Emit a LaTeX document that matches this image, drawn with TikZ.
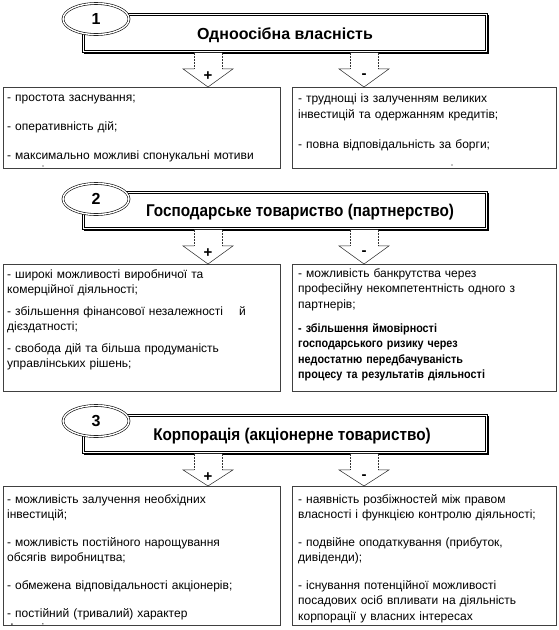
\documentclass[tikz,border=0pt]{standalone}
\usepackage{fontspec}
\setmainfont{Liberation Sans}
\newfontfamily\narrowfont{Liberation Sans}[FakeStretch=0.9]
\usetikzlibrary{shapes.geometric,calc}
\tikzset{
  titlebox/.style={draw=black, line width=0.9pt, fill=white, anchor=north west, inner sep=0pt, minimum width=405pt, minimum height=39pt},
  numell/.style={ellipse, draw=black, line width=0.6pt, double=white, double distance=1.4pt, fill=white, minimum width=66pt, minimum height=31pt, inner sep=0pt, font=\fontsize{16}{16}\selectfont\bfseries},
  sidebox/.style={draw=black!75, line width=0.6pt, anchor=north west, inner sep=0pt},
  boxtext/.style={anchor=base west, inner sep=0pt, text width=#1, align=left, font=\fontsize{12}{16}\selectfont},
  titletext/.style={font=\fontsize{16}{16}\selectfont\bfseries},
  narrowtitle/.style={font=\narrowfont\fontsize{17}{17}\selectfont\bfseries},
  arrowfill/.style={fill=white},
  shaftline/.style={draw=black!80, line width=0.5pt, densely dotted},
  headline/.style={draw=black!85, line width=0.5pt},
  signlabel/.style={font=\fontsize{15}{15}\selectfont\bfseries, inner sep=0pt}
}
% #1 x centre, #2 title node, #3 box node, #4 sign
\newcommand{\blkarrow}[4]{%
  \path let \p1=(#2.south), \p2=(#3.north) in
    [arrowfill] (#1-14,\y1) -- (#1-14,\y1-16pt) -- (#1-25,\y1-16pt) -- (#1,\y2)
      -- (#1+25,\y1-16pt) -- (#1+14,\y1-16pt) -- (#1+14,\y1) -- cycle;
  \path let \p1=(#2.south), \p2=(#3.north) in
    [shaftline] (#1-14,\y1) -- (#1-14,\y1-16pt) (#1+14,\y1) -- (#1+14,\y1-16pt);
  \path let \p1=(#2.south), \p2=(#3.north) in
    [headline] (#1-14,\y1-16pt) -- (#1-25,\y1-16pt) -- (#1,\y2)
      -- (#1+25,\y1-16pt) -- (#1+14,\y1-16pt)
    node[signlabel] at (#1,\y1-23pt) {#4};
}
\newcommand{\titleinner}[1]{%
  \draw[line width=0.5pt] ($(#1.north west)+(2.5,2.5)$) rectangle ($(#1.south east)+(-2.5,-2.5)$);
}
\begin{document}
\begin{tikzpicture}[x=1pt,y=-1pt]
\useasboundingbox (0,0) rectangle (558,630);

% ---------------- Block 1 ----------------
\fill[black] (84,15) rectangle (489,54);
\node[titlebox] (t1) at (82,13) {};
\titleinner{t1}
\node[titletext] (t1txt) at (285,35) {Одноосібна власність};
\node[numell] (e1) at (96,19) {1};

\node[sidebox, minimum width=277pt, minimum height=81pt] (b1l) at (3,87) {};
\node[sidebox, minimum width=264pt, minimum height=81pt] (b1r) at (292,87) {};
\blkarrow{208}{t1}{b1l}{+}
\blkarrow{364}{t1}{b1r}{-}
\node[boxtext=270pt] (x1l) at (7,101) {- простота заснування;\\[13pt]
- оперативність дій;\\[13pt]
- максимально можливі спонукальні мотиви};
\node[boxtext=258pt] (x1r) at (298,102) {- труднощі із залученням великих\\
інвестицій та одержанням кредитів;\\[14pt]
- повна відповідальність за борги;};
\fill[black] (452,165) circle (0.7pt);
\fill[black] (43,166) circle (0.7pt);

% ---------------- Block 2 ----------------
\fill[black] (84,193) rectangle (489,231);
\node[titlebox, minimum height=38pt] (t2) at (82,191) {};
\titleinner{t2}
\node[narrowtitle] (t2txt) at (300,212) {Господарське товариство (партнерство)};
\node[numell] (e2) at (96,199) {2};

\node[sidebox, minimum width=277pt, minimum height=127pt] (b2l) at (3,264) {};
\node[sidebox, minimum width=264pt, minimum height=127pt] (b2r) at (292,264) {};
\blkarrow{208}{t2}{b2l}{+}
\blkarrow{364}{t2}{b2r}{-}
\node[boxtext=270pt, font=\fontsize{12}{15}\selectfont] (x2l) at (7,278) {- широкі можливості виробничої та\\
комерційної діяльності;\\[7pt]
- збільшення фінансової незалежності \ \ \ й\\
дієздатності;\\[7pt]
- свобода дій та більша продуманість\\
управлінських рішень;};
\node[boxtext=258pt, font=\fontsize{12}{15.5}\selectfont] (x2r) at (298,277) {- можливість банкрутства через\\
професійну некомпетентність одного з\\
партнерів;\\[8.5pt]
{\narrowfont\bfseries - збільшення ймовірності\\
господарського ризику через\\
недостатню передбачуваність\\
процесу та результатів діяльності}};

% ---------------- Block 3 ----------------
\fill[black] (84,416) rectangle (489,455);
\node[titlebox] (t3) at (82,414) {};
\titleinner{t3}
\node[narrowtitle] (t3txt) at (292,436) {Корпорація (акціонерне товариство)};
\node[numell] (e3) at (96,421) {3};

\node[sidebox, minimum width=277pt, minimum height=139pt] (b3l) at (3,486) {};
\node[sidebox, minimum width=264pt, minimum height=139pt] (b3r) at (292,486) {};
\blkarrow{208}{t3}{b3l}{+}
\blkarrow{364}{t3}{b3r}{-}
\begin{scope}
\clip (3,486) rectangle (280,624);
\node[boxtext=270pt, font=\fontsize{12}{15}\selectfont] (x3l) at (7,503) {- можливість залучення необхідних\\
інвестицій;\\[13pt]
- можливість постійного нарощування\\
обсягів виробництва;\\[13pt]
- обмежена відповідальності акціонерів;\\[13pt]
- постійний (тривалий) характер\\
функціонування};
\end{scope}
\node[boxtext=258pt, font=\fontsize{12}{15.5}\selectfont] (x3r) at (298,503) {- наявність розбіжностей між правом\\
власності і функцією контролю діяльності;\\[12pt]
- подвійне оподаткування (прибуток,\\
дивіденди);\\[12pt]
- існування потенційної можливості\\
посадових осіб впливати на діяльність\\
корпорації у власних інтересах};
\end{tikzpicture}
\end{document}
